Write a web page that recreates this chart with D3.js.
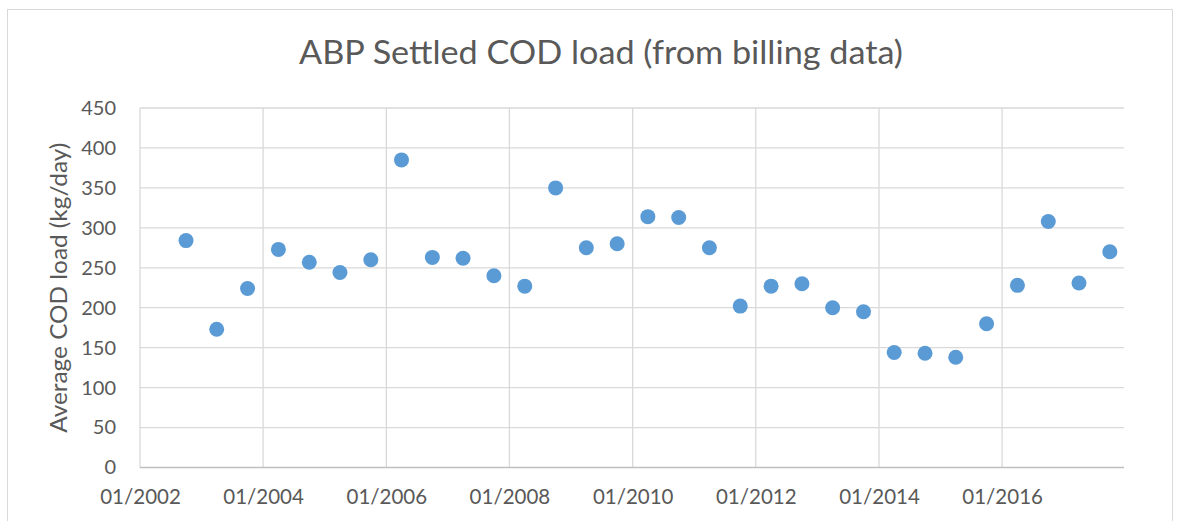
<!DOCTYPE html>
<html>
<head>
<meta charset="utf-8">
<script src="https://cdn.jsdelivr.net/npm/d3@7"></script>
<style>
  html, body { margin: 0; padding: 0; background: #fff; }
  svg { display: block; font-family: Lato, "Open Sans", sans-serif; }
</style>
</head>
<body>
<svg id="chart" width="1184" height="521"></svg>
<script>
// Sampling dates (semi-annual) and average settled COD load, kg/day
const sampleDates = [
  "2002-10-01", "2003-04-01", "2003-10-01", "2004-04-01", "2004-10-01",
  "2005-04-01", "2005-10-01", "2006-04-01", "2006-10-01", "2007-04-01",
  "2007-10-01", "2008-04-01", "2008-10-01", "2009-04-01", "2009-10-01",
  "2010-04-01", "2010-10-01", "2011-04-01", "2011-10-01", "2012-04-01",
  "2012-10-01", "2013-04-01", "2013-10-01", "2014-04-01", "2014-10-01",
  "2015-04-01", "2015-10-01", "2016-04-01", "2016-10-01", "2017-04-01",
  "2017-10-01"
];
const codLoad = [
  284, 173, 224, 273, 257, 244, 260, 385, 263, 262,
  240, 227, 350, 275, 280, 314, 313, 275, 202, 227,
  230, 200, 195, 144, 143, 138, 180, 228, 308, 231,
  270
];
const xTickDates = ["2002-01-01", "2004-01-01", "2006-01-01", "2008-01-01",
                    "2010-01-01", "2012-01-01", "2014-01-01", "2016-01-01"];
const yTicks = [0, 50, 100, 150, 200, 250, 300, 350, 400, 450];

const parse = d3.timeParse("%Y-%m-%d");
const points = sampleDates.map((d, i) => ({ date: parse(d), value: codLoad[i] }));

const svg = d3.select("#chart");
const plot = { left: 140, right: 1124, top: 108, bottom: 467.5 };

// chart area frame
svg.append("rect")
  .attr("x", 7.5).attr("y", 9.5)
  .attr("width", 1165).attr("height", 530)
  .attr("fill", "#fff").attr("stroke", "#d9d9d9").attr("stroke-width", 1);

const x = d3.scaleTime()
  .domain([parse("2002-01-01"), parse("2017-12-24")])
  .range([plot.left, plot.right]);
const y = d3.scaleLinear()
  .domain([0, 450])
  .range([plot.bottom, plot.top]);

const textColor = "#595959";

// horizontal gridlines
svg.append("g").selectAll("line")
  .data(yTicks.filter(v => v > 0))
  .join("line")
  .attr("x1", plot.left).attr("x2", plot.right)
  .attr("y1", d => y(d)).attr("y2", d => y(d))
  .attr("stroke", "#d9d9d9").attr("stroke-width", 1.3);

// vertical gridlines
svg.append("g").selectAll("line")
  .data(xTickDates.map(parse))
  .join("line")
  .attr("x1", d => x(d)).attr("x2", d => x(d))
  .attr("y1", plot.top).attr("y2", plot.bottom)
  .attr("stroke", "#d9d9d9").attr("stroke-width", 1.3);

// x axis baseline
svg.append("line")
  .attr("x1", plot.left).attr("x2", plot.right)
  .attr("y1", plot.bottom).attr("y2", plot.bottom)
  .attr("stroke", "#bfbfbf").attr("stroke-width", 1.3);

// y tick labels
const yAxis = d3.axisLeft(y).tickValues(yTicks).tickSize(0).tickPadding(24);
const gy = svg.append("g").attr("transform", `translate(${plot.left},0)`).call(yAxis);
gy.select(".domain").remove();
gy.selectAll("text")
  .attr("fill", textColor).style("font-size", "20px")
  .style("font-family", "Lato, 'Open Sans', sans-serif");

// x tick labels
const xAxis = d3.axisBottom(x).tickValues(xTickDates.map(parse))
  .tickFormat(d3.timeFormat("%m/%Y")).tickSize(0).tickPadding(22);
const gx = svg.append("g").attr("transform", `translate(0,${plot.bottom})`).call(xAxis);
gx.select(".domain").remove();
gx.selectAll("text")
  .attr("fill", textColor).style("font-size", "20.5px")
  .style("font-family", "Lato, 'Open Sans', sans-serif");

// data points
svg.append("g").selectAll("circle")
  .data(points)
  .join("circle")
  .attr("cx", d => x(d.date))
  .attr("cy", d => y(d.value))
  .attr("r", 7.5)
  .attr("fill", "#5b9bd5");

// title
svg.append("text")
  .attr("x", 601).attr("y", 64)
  .attr("text-anchor", "middle")
  .attr("fill", textColor)
  .attr("textLength", 604)
  .attr("lengthAdjust", "spacingAndGlyphs")
  .style("font-size", "32px")
  .text("ABP Settled COD load (from billing data)");

// y axis title
svg.append("text")
  .attr("transform", `translate(67,${(plot.top + plot.bottom) / 2}) rotate(-90)`)
  .attr("text-anchor", "middle")
  .attr("fill", textColor)
  .attr("textLength", 290)
  .attr("lengthAdjust", "spacingAndGlyphs")
  .style("font-size", "23px")
  .text("Average COD load (kg/day)");
</script>
</body>
</html>
